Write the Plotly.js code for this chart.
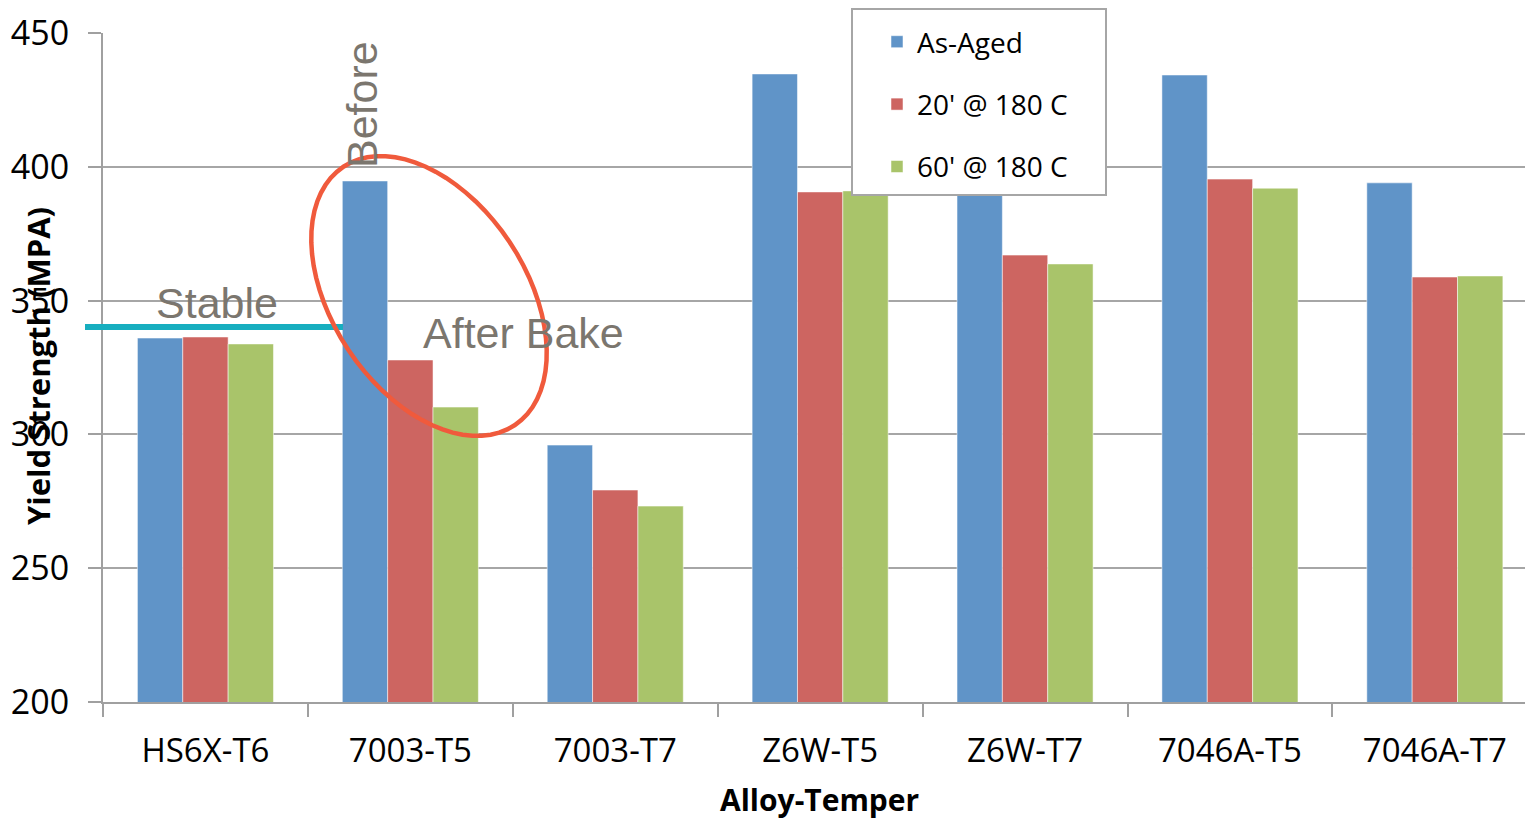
<!DOCTYPE html>
<html>
<head>
<meta charset="utf-8">
<script src="https://cdn.plot.ly/plotly-3.0.1.min.js"></script>
<style>html,body{margin:0;padding:0;background:#fff;}#chart{width:1525px;height:819px;}</style>
</head>
<body>
<div id="chart"></div>
<script>
const categories = ["HS6X-T6", "7003-T5", "7003-T7", "Z6W-T5", "Z6W-T7", "7046A-T5", "7046A-T7"];
const asAged = [336, 394.7, 296, 434.7, 398, 434.3, 394];
const after20 = [336.4, 327.8, 279.2, 390.6, 367, 395.4, 358.8];
const after60 = [333.8, 310.2, 273.2, 391, 363.7, 392, 359.2];
const seriesNames = ["As-Aged", "20' @ 180 C", "60' @ 180 C"];
const seriesColors = ["#6094c8", "#cd6561", "#a9c46a"];

const W = 1525, H = 819;
const mL = 103, mR = 0, mT = 33, mB = 117;
const pw = W - mL - mR, ph = H - mT - mB;
const px = x => (x - mL) / pw;
const py = y => (H - mB - y) / ph;

const traces = [asAged, after20, after60].map((vals, i) => ({
  type: "bar",
  name: seriesNames[i],
  x: categories,
  y: vals,
  legendgroup: "g" + i,
  marker: {color: seriesColors[i], line: {color: "rgba(255,255,255,0.5)", width: 1}},
  hoverinfo: "x+y+name"
}));

// annotation ellipse (paper coords)
const ecx = 429, ecy = 296, ea = 155, eb = 97, eth = 56.5 * Math.PI / 180;
let path = "";
for (let k = 0; k <= 72; k++) {
  const t = 2 * Math.PI * k / 72;
  const ex = ecx + ea * Math.cos(t) * Math.cos(eth) - eb * Math.sin(t) * Math.sin(eth);
  const ey = ecy + ea * Math.cos(t) * Math.sin(eth) + eb * Math.sin(t) * Math.cos(eth);
  path += (k === 0 ? "M" : "L") + px(ex).toFixed(5) + "," + py(ey).toFixed(5);
}
path += "Z";

const grayText = "#7b766e";
const ann = (text, x, y, size, extra) => Object.assign({
  text: text, xref: "paper", yref: "paper", x: px(x), y: py(y), xanchor: "center", yanchor: "middle",
  showarrow: false, font: {family: "Liberation Sans", size: size, color: grayText}
}, extra || {});

const layout = {
  width: W, height: H,
  margin: {l: mL, r: mR, t: mT, b: mB, pad: 0},
  paper_bgcolor: "#fff", plot_bgcolor: "#fff",
  barmode: "group",
  bargap: 0.336,
  bargroupgap: 0,
  showlegend: true,
  legend: {
    x: px(877), y: py(17), xanchor: "left", yanchor: "top",
    bgcolor: "rgba(0,0,0,0)", borderwidth: 0,
    font: {family: "Open Sans", size: 28, color: "#000"},
    tracegroupgap: 23,
    itemwidth: 30
  },
  xaxis: {
    type: "category",
    range: [-0.5, 6.44],
    showline: true, linecolor: "#a0a0a0", linewidth: 2,
    ticks: "outside", tickson: "boundaries", ticklen: 13, tickcolor: "#a0a0a0", tickwidth: 2,
    showgrid: false,
    tickfont: {family: "Open Sans", size: 33, color: "#000"},
    ticklabelstandoff: 18,
    zeroline: false
  },
  yaxis: {
    range: [200, 450],
    tickvals: [200, 250, 300, 350, 400, 450],
    showline: true, linecolor: "#a0a0a0", linewidth: 2,
    ticks: "outside", ticklen: 13, tickcolor: "#a0a0a0", tickwidth: 2,
    showgrid: true, gridcolor: "#a6a6a6", gridwidth: 2,
    tickfont: {family: "Open Sans", size: 34, color: "#000"},
    ticklabelstandoff: 12,
    zeroline: false
  },
  shapes: [
    {type: "line", xref: "paper", yref: "paper", x0: px(85), x1: px(343), y0: py(327), y1: py(327),
     line: {color: "#17aebf", width: 6}},
    {type: "path", xref: "paper", yref: "paper", path: path, line: {color: "#f05a3c", width: 4.5}},
    {type: "rect", xref: "paper", yref: "paper", layer: "above", x0: px(852), x1: px(1106), y0: py(9), y1: py(195),
     fillcolor: "#fff", line: {color: "#a6a6a6", width: 2}}
  ],
  annotations: [
    ann("Stable", 217, 303, 43),
    ann("After Bake", 523, 333, 43),
    ann("Before", 362, 105, 43, {textangle: -90}),
    {text: "<b>Yield Strength (MPA)</b>", xref: "paper", yref: "paper", x: px(38), y: py(366),
     xanchor: "center", yanchor: "middle", showarrow: false, textangle: -90,
     font: {family: "Open Sans", size: 31, color: "#000"}},
    {text: "<b>Alloy-Temper</b>", xref: "paper", yref: "paper", x: px(820), y: py(799),
     xanchor: "center", yanchor: "middle", showarrow: false,
     font: {family: "Open Sans", size: 30, color: "#000"}}
  ]
};

Plotly.newPlot("chart", traces, layout, {displayModeBar: false, staticPlot: true});
</script>
</body>
</html>
